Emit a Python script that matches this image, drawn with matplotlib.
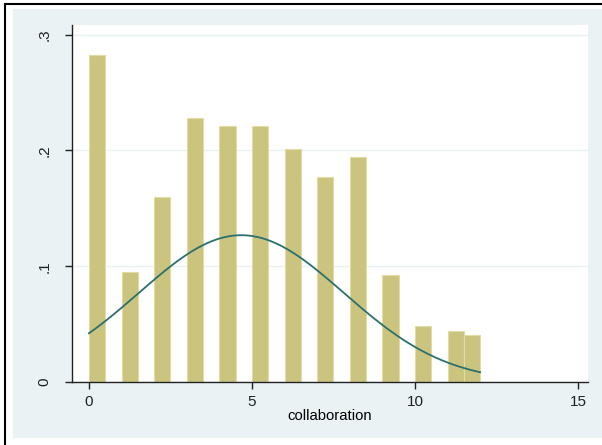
import numpy as np
import matplotlib
matplotlib.use("Agg")
import matplotlib.pyplot as plt
from matplotlib.patches import Rectangle

plt.rcParams['font.family'] = ['Liberation Sans', 'DejaVu Sans']

#----- histogram data (density, bin width 0.5) -----#
bin_left = [0, 1, 2, 3, 4, 5, 6, 7, 8, 9, 10, 11, 11.5]
values = [0, 1, 2, 3, 4, 5, 6, 7, 8, 9, 10, 11, 12]
density = [0.282, 0.095, 0.160, 0.228, 0.221, 0.221, 0.201, 0.177,
           0.194, 0.092, 0.048, 0.044, 0.041]
bin_width = 0.5

xticks = [0, 5, 10, 15]
yticks = [0, 0.1, 0.2, 0.3]
ytick_labels = ['0', '.1', '.2', '.3']

# normal density fitted to the same data (like stata's "normal" option)
w = np.array(density) * bin_width
w = w / w.sum()
v = np.array(values, dtype=float)
mu = np.sum(w * v)
sd = np.sqrt(np.sum(w * (v - mu) ** 2))
xs = np.linspace(min(values), max(values), 200)
ys = np.exp(-0.5 * ((xs - mu) / sd) ** 2) / (sd * np.sqrt(2 * np.pi))

#----- figure -----#
W, H = 602, 445
fig = plt.figure(figsize=(W / 100, H / 100), dpi=100)
fig.patch.set_facecolor('white')

# outer frame + stata-ish light background
frame = Rectangle((5 / W, -0.1), 1.2, 1.1 - 4 / H,
                  transform=fig.transFigure, fill=False,
                  edgecolor='black', linewidth=1.5, zorder=-2)
bg = Rectangle((13 / W, 1 - 438 / H), 1.2, (438 - 9) / H,
               transform=fig.transFigure, facecolor='#eaf2f3',
               edgecolor='none', zorder=-1)
fig.add_artist(frame)
fig.add_artist(bg)

ax = fig.add_axes([72 / W, 1 - 382 / H, (588 - 72) / W, (382 - 24.5) / H])
ax.set_zorder(1)
ax.set_facecolor('white')

ax.bar(bin_left, density, width=bin_width, align='edge',
       color='#cbc47f', edgecolor='#e2dca4', linewidth=0.8, zorder=2)
ax.plot(xs, ys, color='#2a706c', linewidth=1.3, zorder=3)

ax.set_xlim(-0.52, 15.31)
ax.set_ylim(0, 0.3087)
ax.set_xticks(xticks)
ax.set_yticks(yticks)
ax.set_yticklabels(ytick_labels, rotation=90, va='center')
ax.grid(axis='y', color='#eaf2f3', linewidth=1.0, zorder=1)
ax.set_axisbelow(True)

for s in ['top', 'right']:
    ax.spines[s].set_visible(False)
for s in ['left', 'bottom']:
    ax.spines[s].set_color('#222222')
    ax.spines[s].set_linewidth(1.0)
ax.tick_params(direction='out', length=5, width=1, colors='#222222',
               labelsize=11, pad=4)
ax.tick_params(axis='y', pad=10)
ax.set_xlabel('collaboration', fontsize=10.7, labelpad=0)

fig.savefig('out.png', dpi=100, facecolor=fig.get_facecolor())
